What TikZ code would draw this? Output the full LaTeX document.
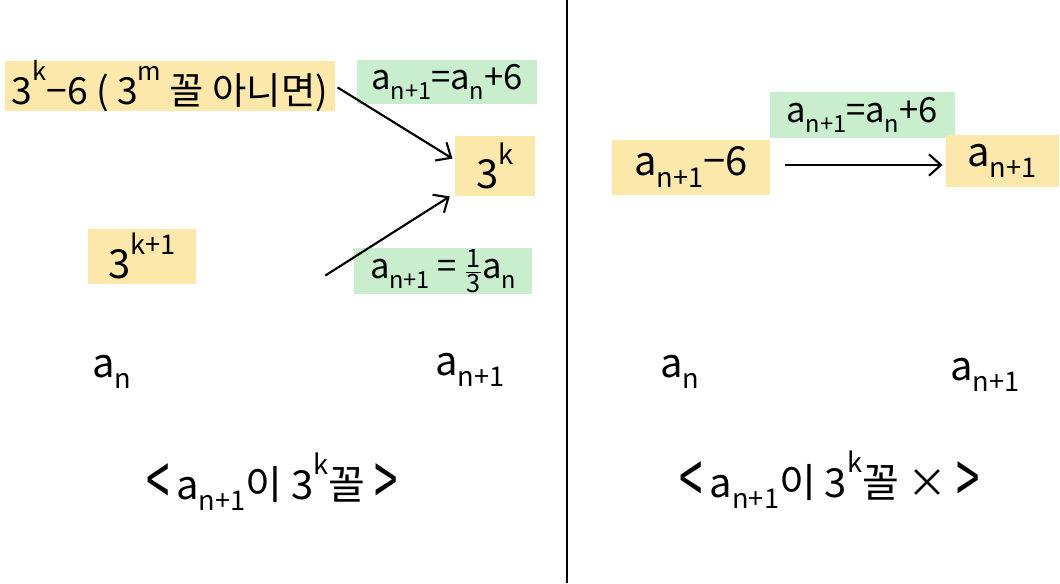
\documentclass[tikz,border=0pt]{standalone}
\usepackage{fontspec}
\setmainfont{Noto Sans CJK KR}
\usetikzlibrary{arrows.meta}
\definecolor{hlyellow}{RGB}{253,232,172}
\definecolor{hlgreen}{RGB}{200,238,206}
\newcommand{\sbs}[1]{\raisebox{-0.28em}{\scalebox{0.68}{#1}}}
\newcommand{\sps}[1]{\raisebox{0.62em}{\scalebox{0.68}{#1}}}
\newcommand{\third}{\raisebox{-0.05em}{\ensuremath{\frac{\mbox{\fontsize{19}{19}\selectfont 1}}{\mbox{\fontsize{19}{19}\selectfont 3}}}}}
\newcommand{\lang}{\raisebox{-0.18em}{\scalebox{1.05}[1.8]{<}}}
\newcommand{\rang}{\raisebox{-0.18em}{\scalebox{1.05}[1.8]{>}}}
\tikzset{
  big/.style={font=\fontsize{30}{34}\selectfont},
  mid/.style={font=\fontsize{26}{30}\selectfont},
  ylw/.style={fill=hlyellow, inner sep=0pt, anchor=center},
  grn/.style={fill=hlgreen, inner sep=0pt, anchor=center},
  plain/.style={inner sep=0pt, anchor=center},
  arr/.style={line width=1.6pt, -{Straight Barb[length=9pt,width=16pt,line width=1.6pt]}, shorten >=2pt, shorten <=2pt},
}
\begin{document}
\begin{tikzpicture}[x=0.75pt,y=-0.75pt]
\useasboundingbox (0,0) rectangle (1060,583);
\fill[white] (0,0) rectangle (1060,583);
% divider
\coordinate (d1) at (567,0);
\coordinate (d2) at (567,583);
\draw[line width=1.5pt] (d1) -- (d2);

% left panel
\node[ylw, font=\fontsize{28}{32}\selectfont, minimum width=330*0.75pt, minimum height=46*0.75pt] (top) at (170,86) {3\sps{k}−6 ( 3\sps{m} 꼴 아니면)};
\node[grn, mid, minimum width=180*0.75pt, minimum height=44*0.75pt] (g1) at (447,82) {a\sbs{n+1}=a\sbs{n}+6};
\node[ylw, big, minimum width=80*0.75pt, minimum height=60*0.75pt] (tk) at (495,166) {3\sps{k}};
\node[ylw, big, minimum width=108*0.75pt, minimum height=55*0.75pt] (tk1) at (142,256) {3\sps{k+1}};
\node[grn, mid, minimum width=178*0.75pt, minimum height=46*0.75pt] (g2) at (443,271) {a\sbs{n+1} = \third a\sbs{n}};
\coordinate (s2) at (323,277);
\draw[arr] (top.east) -- (tk.west |- 0,160);
\draw[arr] (s2) -- (452,195);
\node[plain, big] (an1) at (112,372) {a\sbs{n}};
\node[plain, big] (ann1) at (470,370) {a\sbs{n+1}};
\node[plain, big] (cap1) at (272,482) {\lang\,a\sbs{n+1}이 3\sps{k}꼴 \rang};

% right panel
\node[ylw, big, minimum width=158*0.75pt, minimum height=55*0.75pt] (rl) at (691,167) {a\sbs{n+1}−6};
\node[grn, mid, minimum width=185*0.75pt, minimum height=46*0.75pt] (g3) at (862,115) {a\sbs{n+1}=a\sbs{n}+6};
\node[ylw, big, minimum width=113*0.75pt, minimum height=52*0.75pt] (rr) at (1002,161) {a\sbs{n+1}};
\draw[arr] (rl.east) ++(12,-2) coordinate (ra) (ra) -- (rr.west |- ra) ;
\node[plain, big] (an2) at (680,372) {a\sbs{n}};
\node[plain, big] (ann2) at (985,375) {a\sbs{n+1}};
\node[plain, big] (cap2) at (830,480) {\lang\,a\sbs{n+1}이 3\sps{k}꼴 × \rang};
\end{tikzpicture}
\end{document}
